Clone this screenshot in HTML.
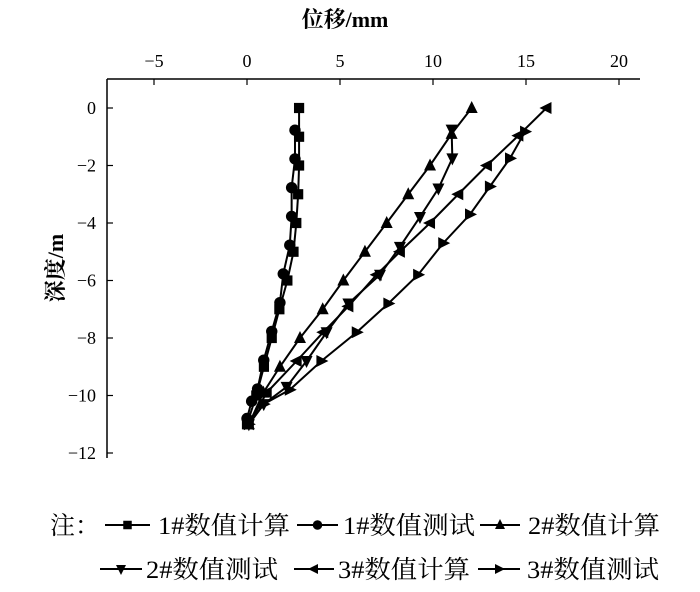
<!DOCTYPE html>
<html><head><meta charset="utf-8"><style>
body{margin:0;background:#fff;}
svg{display:block;font-family:"Liberation Serif","Noto Serif CJK SC",serif;}
</style></head><body>
<svg id="chart" width="700" height="592" viewBox="0 0 700 592" xmlns="http://www.w3.org/2000/svg">
<text x="345" y="27" text-anchor="middle" font-size="22" font-weight="bold">位移/mm</text>
<text transform="translate(63,268) rotate(-90)" text-anchor="middle" font-size="22" font-weight="bold">深度/m</text>
<g id="axes"></g>
<g id="series"></g>
<g id="legend"></g>
</svg>
<script>
const xTicks=[-5,0,5,10,15,20];
const yTicks=[0,-2,-4,-6,-8,-10,-12];
const seriesNames=["1#数值计算","1#数值测试","2#数值计算","2#数值测试","3#数值计算","3#数值测试"];
const s1x=[2.8,2.8,2.8,2.75,2.65,2.5,2.17,1.74,1.33,0.91,0.5,0];
const s1y=[0,-1,-2,-3,-4,-5,-6,-7,-8,-9,-10,-11];
const s2x=[2.58,2.58,2.4,2.4,2.3,1.95,1.77,1.33,0.9,0.57,0.25,0];
const s2y=[-0.77,-1.77,-2.77,-3.77,-4.77,-5.77,-6.77,-7.77,-8.77,-9.77,-10.2,-10.8];
const s3x=[12.08,11.0,9.84,8.67,7.51,6.34,5.18,4.07,2.85,1.77,0.88,0.1];
const s3y=[0,-0.9,-2,-3,-4,-5,-6,-7,-8,-9,-9.9,-11];
const s4x=[11.0,11.04,10.29,9.3,8.22,7.15,5.45,4.28,3.2,2.13,0.9,0.1];
const s4y=[-0.75,-1.75,-2.8,-3.79,-4.83,-5.8,-6.8,-7.8,-8.8,-9.7,-10.3,-11];
const s5x=[16.1,14.59,12.9,11.36,9.84,8.22,6.97,5.45,4.1,2.67,1.06,0.1];
const s5y=[0,-0.96,-2,-3,-4,-5,-5.8,-6.9,-7.8,-8.8,-9.9,-11];
const s6x=[14.95,14.14,13.06,11.99,10.55,9.2,7.6,5.9,4.0,2.3,0.9,0.1];
const s6y=[-0.82,-1.75,-2.73,-3.7,-4.7,-5.8,-6.8,-7.8,-8.8,-9.8,-10.3,-11];

const NS="http://www.w3.org/2000/svg";
const X=v=>247+v*18.6;
const Y=v=>108-v*28.75;
function mk(tag,attrs,parent){const e=document.createElementNS(NS,tag);for(const k in attrs)e.setAttribute(k,attrs[k]);parent.appendChild(e);return e;}
const axes=document.getElementById('axes');
let a=mk('line',{x1:107,y1:79,x2:640,y2:79,stroke:'#000','stroke-width':1.5},axes);


a=mk('line',{x1:107,y1:79,x2:107,y2:458,stroke:'#000','stroke-width':1.5},axes);


xTicks.forEach(t=>{
 mk('line',{x1:X(t),y1:79,x2:X(t),y2:85,stroke:'#000','stroke-width':1.2},axes);
 const tx=mk('text',{x:X(t),y:67,'text-anchor':'middle','font-size':18},axes);
 tx.textContent=t<0?'−'+(-t):String(t);
 
 
});
yTicks.forEach(t=>{
 mk('line',{x1:107,y1:Y(t),x2:113,y2:Y(t),stroke:'#000','stroke-width':1.2},axes);
 const tx=mk('text',{x:96,y:Y(t)+6,'text-anchor':'end','font-size':18},axes);
 tx.textContent=t<0?'−'+(-t):String(t);
 
 
});
function marker(type,cx,cy,g,s){
 const r=s||6;
 if(type==='sq')return mk('rect',{x:cx-r*0.85,y:cy-r*0.85,width:r*1.7,height:r*1.7,fill:'#000'},g);
 if(type==='ci')return mk('circle',{cx,cy,r:r*0.95,fill:'#000'},g);
 let p;
 if(type==='up')p=[[cx,cy-r-1],[cx-r,cy+r-1],[cx+r,cy+r-1]];
 if(type==='dn')p=[[cx,cy+r+1],[cx-r,cy-r+1],[cx+r,cy-r+1]];
 if(type==='lf')p=[[cx-r-1,cy],[cx+r-1,cy-r],[cx+r-1,cy+r]];
 if(type==='rt')p=[[cx+r+1,cy],[cx-r+1,cy-r],[cx-r+1,cy+r]];
 return mk('polygon',{points:p.map(q=>q.join(',')).join(' '),fill:'#000'},g);
}
const types=['sq','ci','up','dn','lf','rt'];
const data=[[s1x,s1y],[s2x,s2y],[s3x,s3y],[s4x,s4y],[s5x,s5y],[s6x,s6y]];
const sg=document.getElementById('series');
data.forEach((d,i)=>{
 const g=mk('g',{},sg);
 
 
 const pts=d[0].map((v,j)=>X(v)+','+Y(d[1][j])).join(' ');
 mk('polyline',{points:pts,fill:'none',stroke:'#000','stroke-width':2},g);
 d[0].forEach((v,j)=>{
  const m=marker(types[i],X(v),Y(d[1][j]),g);
  
  
 });
});
const lg=document.getElementById('legend');
const nt=mk('text',{x:50,y:534,'font-size':25},lg);
nt.textContent='注：';


const pos=[[105,150,158,525],[297,338,343,525],[480,520,528,525],[100,142,146,569],[294,334,338,569],[478,520,527,569]];
pos.forEach((p,i)=>{
 const g=mk('g',{},lg);
 
 
 mk('line',{x1:p[0],y1:p[3],x2:p[1],y2:p[3],stroke:'#000','stroke-width':2},g);
 marker(types[i],(p[0]+p[1])/2,p[3],g,5);
 const t=mk('text',{x:p[2],y:p[3]+9,'font-size':25,textLength:132,lengthAdjust:'spacingAndGlyphs'},g);
 t.textContent=seriesNames[i];
});
</script>
</body></html>
